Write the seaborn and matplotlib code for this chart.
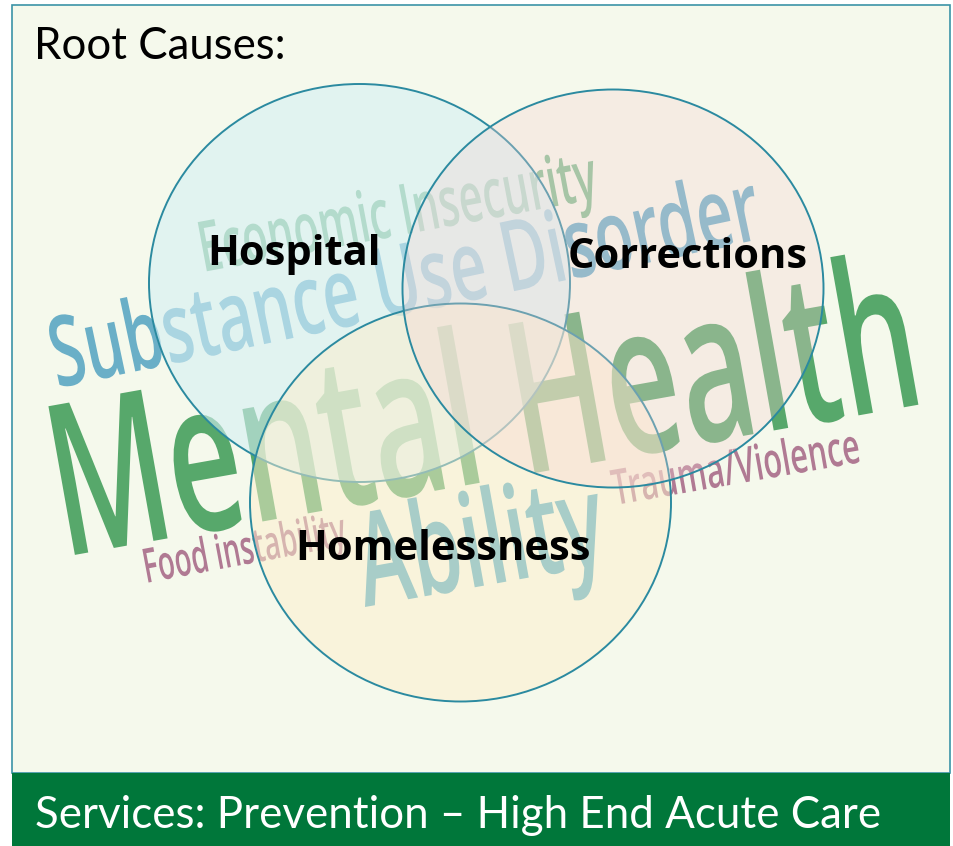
import numpy as np
import matplotlib
matplotlib.use("Agg")
import matplotlib.pyplot as plt
import seaborn as sns
from matplotlib import font_manager, patheffects
from matplotlib.patches import Ellipse, Rectangle
from matplotlib.transforms import Affine2D

# ---- content ----
circle_labels = ["Hospital", "Homelessness", "Corrections"]
cloud_words = [
    "Mental Health",
    "Substance Use Disorder",
    "Economic Insecurity",
    "Trauma/Violence",
    "Food instability",
    "Ability",
]
header_text = "Root Causes:"
footer_text = "Services: Prevention \u2013 High End Acute Care"

# ---- styles ----
word_colors = ["#57a86b", "#6aafc7", "#82bf92", "#b07a93", "#b07a93", "#53abc4"]
circle_fills = ["#d5eff4", "#fdefcc", "#f6d2d3"]
circle_alphas = [0.6, 0.5, 0.32]
edge_color = "#2b8aa0"
bg_color = "#f5f9ec"
bar_color = "#00773a"

# ---- layout (pixel space, y down) ----
# baseline start / end and cap height for each cloud word
word_layout = {
    "Mental Health": (63, 557, 928, 403, 151),
    "Substance Use Disorder": (57, 388, 765, 238, 70),
    "Economic Insecurity": (203, 272, 600, 198, 50),
    "Trauma/Violence": (615, 505, 862, 462, 35),
    "Food instability": (146, 583, 348, 545, 34),
    "Ability": (365, 607, 610, 563, 93),
}
circle_layout = {
    "Hospital": ((359.5, 283), (207, 265)),
    "Homelessness": ((460.5, 502.5), (295, 560)),
    "Corrections": ((613, 288.5), (568, 268)),
}
CIRCLE_W, CIRCLE_H = 421, 398

avail = {f.name for f in font_manager.fontManager.ttflist}


def pick(*names):
    for n in names:
        if n in avail:
            return n
    return "DejaVu Sans"


cloud_font = pick("Open Sans", "Noto Sans", "DejaVu Sans")
label_font = pick("Open Sans", "Noto Sans", "DejaVu Sans")
title_font = pick("Lato", "Open Sans", "DejaVu Sans")


class Stretch(patheffects.AbstractPathEffect):
    """stretch the glyphs upward from the baseline (condensed look)"""

    def __init__(self, sy):
        super().__init__()
        self.sy = sy

    def draw_path(self, renderer, gc, tpath, affine, rgbFace=None):
        renderer.draw_path(gc, tpath, Affine2D().scale(1.0, self.sy) + affine, rgbFace)


sns.set_theme(style="white")
plt.rcParams["font.family"] = [label_font, "DejaVu Sans"]

fig = plt.figure(figsize=(9.54, 8.46), dpi=100)
fig.patch.set_facecolor("white")
ax = fig.add_axes([0, 0, 1, 1])
ax.set_xlim(0, 954)
ax.set_ylim(846, 0)
ax.axis("off")

ax.add_patch(Rectangle((12, 5), 938, 768, facecolor=bg_color,
                       edgecolor="#3b93a7", lw=1.2, zorder=0))
ax.add_patch(Rectangle((12, 773), 938, 73, facecolor=bar_color,
                       edgecolor="none", zorder=0))

# word cloud behind the circles
renderer = fig.canvas.get_renderer()
palette = sns.color_palette(word_colors)
for word, color in zip(cloud_words, palette):
    x0, y0, x1, y1, cap = word_layout[word]
    ang = np.degrees(np.arctan2(y0 - y1, x1 - x0))
    length = np.hypot(x1 - x0, y1 - y0)
    ref = font_manager.FontProperties(family=cloud_font, weight="semibold", size=100)
    w100, _, _ = renderer.get_text_width_height_descent(word, ref, ismath=False)
    fs = 100 * length / w100            # points, so the word spans its length
    fs_px = fs * fig.dpi / 72
    sy = cap / (0.714 * fs_px)
    prop = font_manager.FontProperties(family=cloud_font, weight="semibold", size=fs)
    ax.text(x0, y0, word, fontproperties=prop, color=color, rotation=ang,
            rotation_mode="anchor", ha="left", va="baseline", zorder=1,
            path_effects=[Stretch(sy)])

# venn circles
for i, (lab, fill, a) in enumerate(zip(circle_labels, circle_fills, circle_alphas)):
    (cx, cy), (tx, ty) = circle_layout[lab]
    ax.add_patch(Ellipse((cx, cy), CIRCLE_W, CIRCLE_H,
                         facecolor=matplotlib.colors.to_rgba(fill, a),
                         edgecolor=edge_color, lw=1.4, zorder=2 + i))
    ax.text(tx, ty, lab, fontsize=30, fontweight="bold", color="black",
            family=label_font, ha="left", va="baseline", zorder=10)

ax.text(34, 59, header_text, fontsize=31.5, color="black", family=title_font,
        ha="left", va="baseline", zorder=10)
ax.text(35, 828, footer_text, fontsize=31.6, color="white", family=title_font,
        ha="left", va="baseline", zorder=10)

fig.savefig("out.png", dpi=100)
